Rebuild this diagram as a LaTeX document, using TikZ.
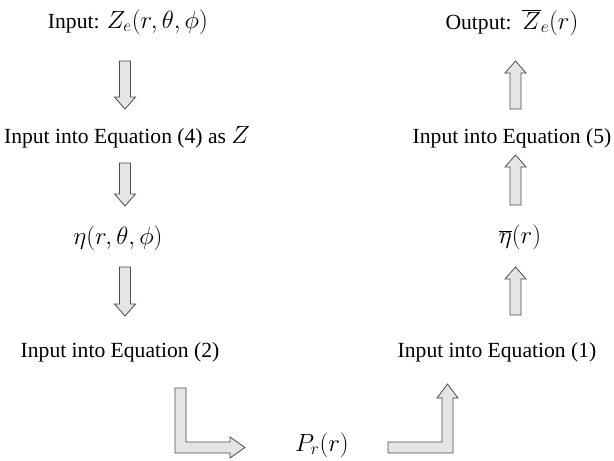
\documentclass[tikz,border=0pt]{standalone}
\usepackage{fontspec}
\setmainfont{Liberation Serif}
\usetikzlibrary{calc}
\tikzset{
  lbl/.style={inner sep=0pt, font=\fontsize{21.6}{26}\selectfont},
  blk/.style={draw=black!70, fill=gray!20, line width=0.8pt, line join=miter}
}
\newcommand{\bigmath}[1]{{\fontsize{25.5}{30}\selectfont$#1$}}
% vertical block arrow: #1 tail coordinate, #2 tip coordinate, #3 signed head length
\newcommand{\blockarrowV}[3]{%
  \draw[blk] ($(#1)+(-5.5,0)$) -- ($(#2)+(-5.5,#3)$) -- ($(#2)+(-10.5,#3)$) -- (#2)
    -- ($(#2)+(10.5,#3)$) -- ($(#2)+(5.5,#3)$) -- ($(#1)+(5.5,0)$) -- cycle;}
\begin{document}
\begin{tikzpicture}[x=1pt,y=-1pt]
\useasboundingbox (0,0) rectangle (614,461);
% left column
\node[lbl, anchor=base] (in) at (128,28) {Input: \bigmath{Z_e\bigl(r,\theta,\phi\bigr)}};
\node[lbl, anchor=base] (eq4) at (127,143) {Input into Equation (4) as \bigmath{Z}};
\node[lbl] (eta) at (118,238) {\bigmath{\eta\bigl(r,\theta,\phi\bigr)}};
\node[lbl, anchor=base] (eq2) at (120,357) {Input into Equation (2)};
% bottom
\node[lbl] (pr) at (322,445) {\bigmath{P_r\bigl(r\bigr)}};
% right column
\node[lbl, anchor=base] (eq1) at (497,357) {Input into Equation (1)};
\node[lbl] (etab) at (520,237) {\bigmath{\overline{\eta}\bigl(r\bigr)}};
\node[lbl, anchor=base] (eq5) at (512,143) {Input into Equation (5)};
\node[lbl, anchor=base] (out) at (512,29) {Output:\ \ \bigmath{\overline{Z}_e\bigl(r\bigr)}};
% arrow end points
\coordinate (a1s) at (125,61);  \coordinate (a1t) at (125,109);
\coordinate (a2s) at (125,163); \coordinate (a2t) at (125,206);
\coordinate (a3s) at (125,267); \coordinate (a3t) at (125,316);
\coordinate (b1s) at (515.5,315); \coordinate (b1t) at (515.5,267);
\coordinate (b2s) at (515.5,205); \coordinate (b2t) at (515.5,155);
\coordinate (b3s) at (515.5,109); \coordinate (b3t) at (515.5,61);
\blockarrowV{a1s}{a1t}{-12}
\blockarrowV{a2s}{a2t}{-12}
\blockarrowV{a3s}{a3t}{-12}
\blockarrowV{b1s}{b1t}{12}
\blockarrowV{b2s}{b2t}{12}
\blockarrowV{b3s}{b3t}{12}
% L-shaped arrow (down then right)
\coordinate (Ls) at (180.5,388); \coordinate (Lt) at (245,447.5);
\draw[blk] ($(Ls)+(-5.5,0)$) |- ($(Lt)+(-15,5.5)$) -- ($(Lt)+(-15,10.5)$) -- (Lt)
  -- ($(Lt)+(-15,-10.5)$) -- ($(Lt)+(-15,-5.5)$) -| ($(Ls)+(5.5,0)$) -- cycle;
% reversed-L arrow (right then up)
\coordinate (Rs) at (388,447.5); \coordinate (Rt) at (447.5,384);
\draw[blk] ($(Rs)+(0,-5.5)$) -| ($(Rt)+(-5.5,14)$) -- ($(Rt)+(-10.5,14)$) -- (Rt)
  -- ($(Rt)+(10.5,14)$) -- ($(Rt)+(5.5,14)$) |- ($(Rs)+(0,5.5)$) -- cycle;
\end{tikzpicture}
\end{document}
